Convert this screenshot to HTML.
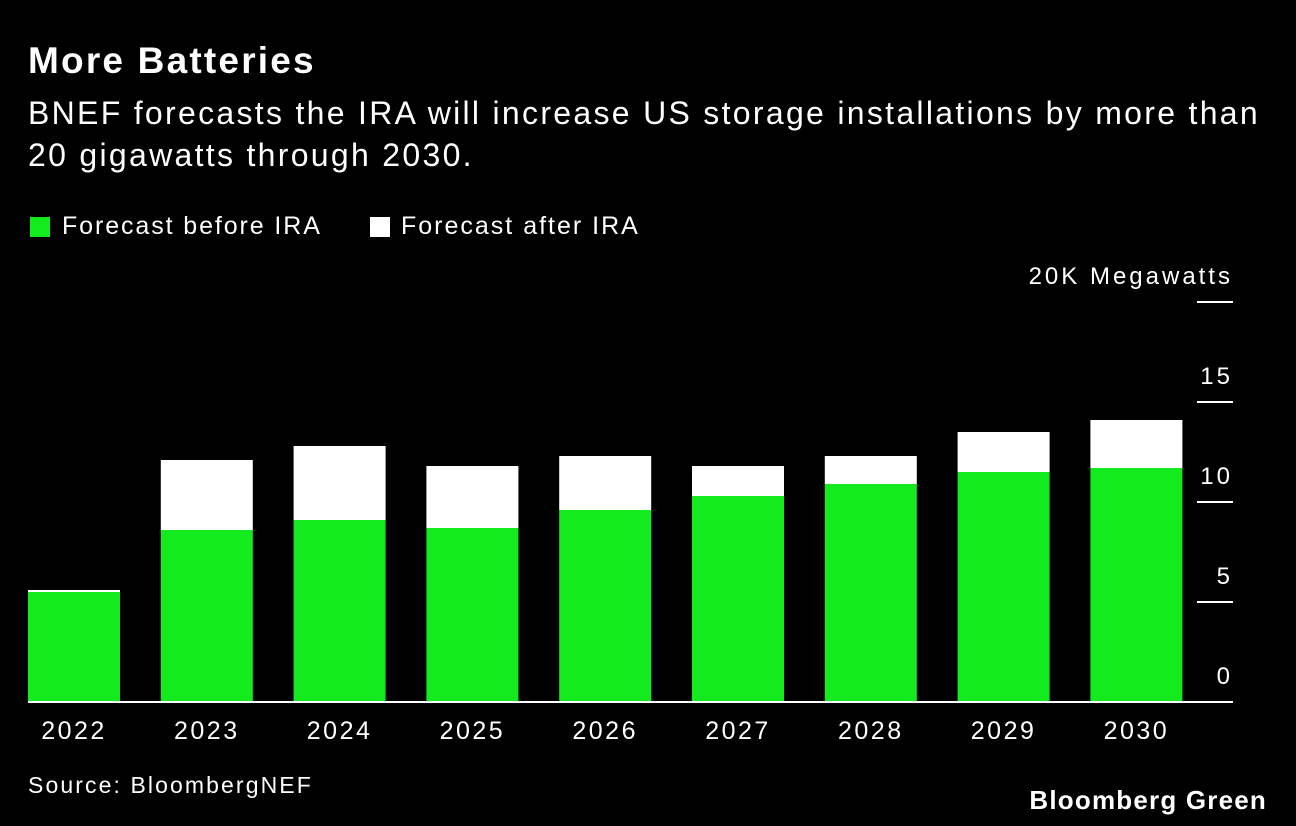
<!DOCTYPE html>
<html><head><meta charset="utf-8"><style>
body{margin:0;background:#000;width:1296px;height:826px;overflow:hidden;font-family:"Liberation Sans",Arial,sans-serif;color:#fff}
.t{position:absolute;white-space:nowrap}
</style></head><body>
<div class="t" style="left:28px;top:40px;font-size:37px;font-weight:bold;letter-spacing:2.2px">More Batteries</div>
<div class="t" style="left:28px;top:92px;font-size:32px;line-height:42px;letter-spacing:2.3px">BNEF forecasts the IRA will increase US storage installations by more than<br>20 gigawatts through 2030.</div>
<div>
<div style="position:absolute;left:30px;top:217px;width:20px;height:20px;background:#13eb1f"></div>
<div class="t" style="left:62px;top:212px;font-size:25px;letter-spacing:1.9px">Forecast before IRA</div>
<div style="position:absolute;left:370px;top:217px;width:20px;height:20px;background:#fff"></div>
<div class="t" style="left:401px;top:212px;font-size:25px;letter-spacing:2px">Forecast after IRA</div>
</div>
<svg id="chart" width="1296" height="826" style="position:absolute;left:0;top:0"></svg>
<div class="t" style="left:28px;top:772px;font-size:23px;letter-spacing:2.1px">Source: BloombergNEF</div>
<div class="t" style="right:29px;top:785px;font-size:26px;font-weight:bold;letter-spacing:1.2px">Bloomberg Green</div>
<script>
const years=["2022","2023","2024","2025","2026","2027","2028","2029","2030"];
const beforeIRA=[5.5,8.6,9.1,8.7,9.6,10.3,10.9,11.5,11.7];
const afterIRA=[5.6,12.1,12.8,11.8,12.3,11.8,12.3,13.5,14.1];
const ticks=[0,5,10,15,20];
const svg=document.getElementById('chart');
const NS='http://www.w3.org/2000/svg';
const y0=702,pxPer=20,x0=28,step=132.8,bw=92;
const y=v=>y0-v*pxPer;
const x=i=>x0+i*step;
function mk(t,a){const e=document.createElementNS(NS,t);for(const k in a)e.setAttribute(k,a[k]);svg.appendChild(e);return e;}
years.forEach((yr,i)=>{
  const w=mk('rect',{x:x(i),y:y(afterIRA[i]),width:bw,height:y(beforeIRA[i])-y(afterIRA[i]),fill:'#fff'});
  
  
  const g=mk('rect',{x:x(i),y:y(beforeIRA[i]),width:bw,height:y0-y(beforeIRA[i]),fill:'#13eb1f'});
  
  
  const t=mk('text',{x:x(i)+bw/2,y:739,'text-anchor':'middle','font-size':25,'letter-spacing':2.5,fill:'#fff','font-family':'Liberation Sans, sans-serif'});
  t.textContent=yr;
  
  
});
const base=mk('line',{x1:28,x2:1233,y1:y0,y2:y0,stroke:'#fff','stroke-width':2});


ticks.forEach(v=>{
  if(v>0){const l=mk('line',{x1:1197,x2:1233,y1:y(v),y2:y(v),stroke:'#fff','stroke-width':2});
  
  }
  const t=mk('text',{x:1233,y:y(v)-18,'text-anchor':'end','font-size':24,'letter-spacing':3,fill:'#fff','font-family':'Liberation Sans, sans-serif'});
  t.textContent=v===20?'20K Megawatts':String(v);
  
  
});
</script>
</body></html>
